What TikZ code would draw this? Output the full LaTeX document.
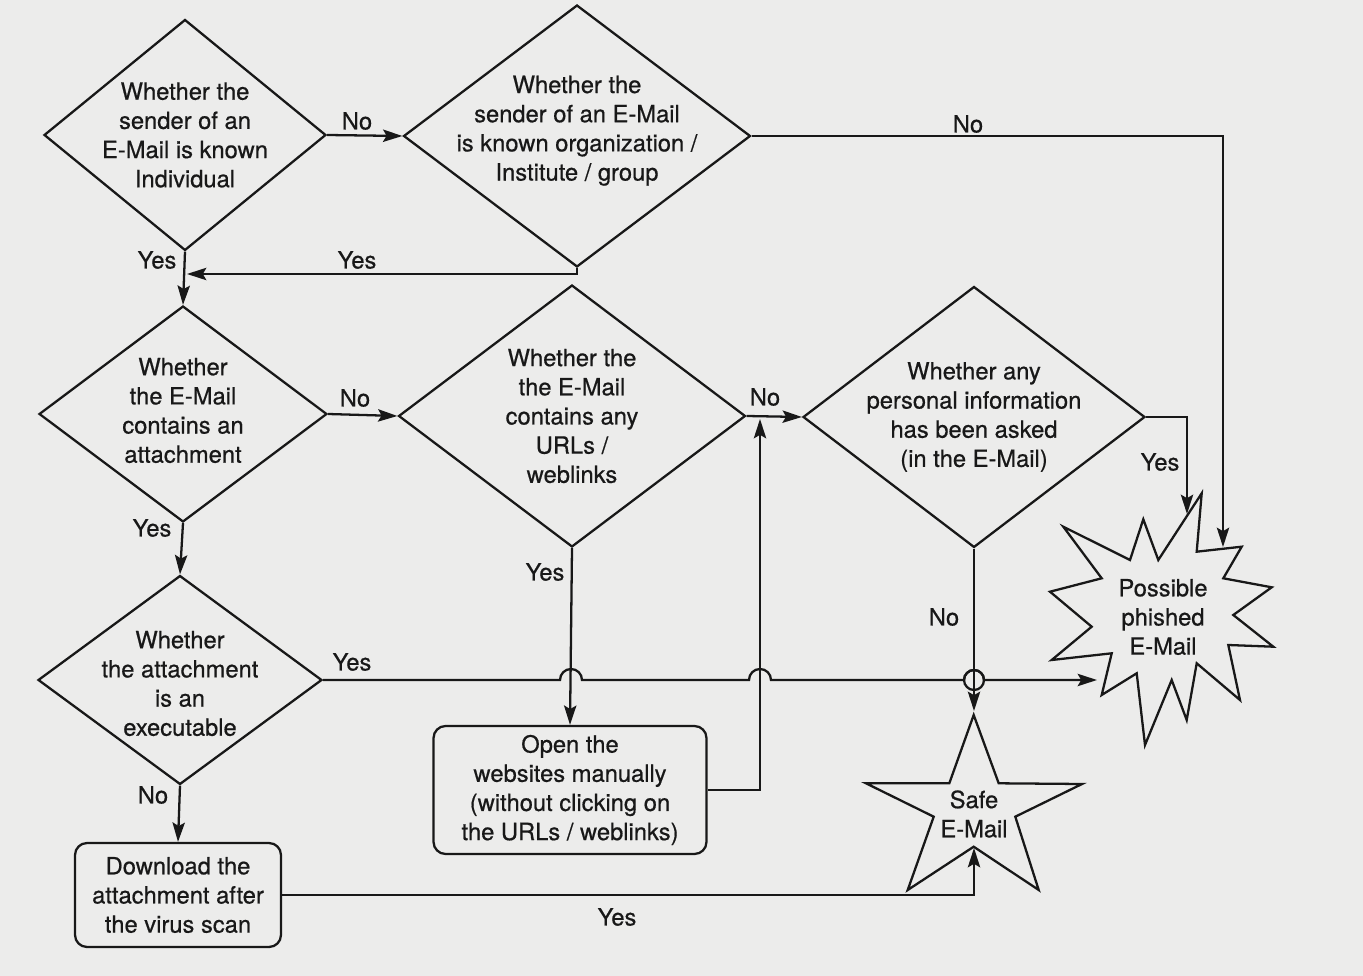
\documentclass[tikz,border=0pt]{standalone}
\usepackage{fontspec}
\setmainfont{TeX Gyre Heros}[FakeBold=0.6]
\usepackage{tikz}
\usetikzlibrary{shapes.geometric,arrows.meta}
\definecolor{scanbg}{RGB}{236,236,235}
\definecolor{ink}{RGB}{24,24,24}
\tikzset{
  txt/.style = {align=center, inner sep=0pt, text=ink,
    font=\fontsize{13.5}{16.6}\selectfont},% texte
  dec/.style = {diamond, draw=ink, inner sep=0pt},% decision
  proc/.style = {txt, rectangle, rounded corners=0.24cm, draw=ink},% action
  lbl/.style = {txt}% yes / no
}

\begin{document}
\begin{tikzpicture}[x=0.02cm, y=-0.02cm, color=ink, line width=1.3pt, >={Stealth[length=11pt,width=7pt,inset=2pt]}]
\fill[scanbg] (0,0) rectangle (1363,976);
\useasboundingbox (0,0) rectangle (1363,976);

% decisions
\node[dec, minimum width=5.64cm, minimum height=4.62cm,
  label={[txt]center:Whether the\\sender of an\\E-Mail is known\\Individual}] (d1) at (185,135) {};
\node[dec, minimum width=6.94cm, minimum height=5.24cm,
  label={[txt, yshift=3pt]center:Whether the\\sender of an E-Mail\\is known organization /\\Institute / group}] (d2) at (577,136) {};
\node[dec, minimum width=5.76cm, minimum height=4.32cm,
  label={[txt, yshift=2pt]center:Whether\\the E-Mail\\contains an\\attachment}] (d3) at (183,414) {};
\node[dec, minimum width=6.94cm, minimum height=5.24cm,
  label={[txt]center:Whether the\\the E-Mail\\contains any\\URLs /\\weblinks}] (d4) at (572,416) {};
\node[dec, minimum width=6.84cm, minimum height=5.22cm,
  label={[txt]center:Whether any\\personal information\\has been asked\\(in the E-Mail)}] (d5) at (974,417) {};
\node[dec, minimum width=5.68cm, minimum height=4.18cm,
  label={[txt, yshift=-2pt]center:Whether\\the attachment\\is an\\executable}] (d6) at (180,680) {};

% actions
\node[proc, minimum width=5.46cm, minimum height=2.56cm] (open) at (570,790)
  {Open the\\websites manually\\(without clicking on\\the URLs / weblinks)};
\node[proc, minimum width=4.12cm, minimum height=2.08cm] (down) at (178,895)
  {Download the\\attachment after\\the virus scan};

% results
\draw (1201.7,493.3) -- (1196.7,551.7) -- (1241.7,546.7) -- (1223.3,578.3) -- (1271.7,587.3)
  -- (1233.3,615) -- (1273.3,646.7) -- (1228.3,645) -- (1240,700) -- (1196.7,663.3)
  -- (1186.7,720) -- (1171.7,680) -- (1145,745) -- (1136.7,673.3) -- (1101.7,695)
  -- (1111.7,653.3) -- (1051.7,660) -- (1091.7,626.7) -- (1050,591.7) -- (1101.7,578.3)
  -- (1063.3,526.7) -- (1130,560) -- (1143.3,519.3) -- (1158.3,560) -- cycle;
\node[txt] (phish) at (1163,617) {Possible\\phished\\E-Mail};
\draw (973.7,715) -- (998.7,783.3) -- (1082,784) -- (1015.3,816.7) -- (1038.7,890)
  -- (973.7,846.7) -- (907.7,890) -- (933.7,816.7) -- (866,783.3) -- (949.3,783.3) -- cycle;
\node[txt] (safe) at (974,814) {Safe\\E-Mail};

\coordinate (yes2end) at (187,274);
\coordinate (p1) at (1187,514);
\coordinate (p2) at (1223,547);
\coordinate (p3) at (1097,680);
\coordinate (s1) at (974,711);
\coordinate (s2) at (974,848);
\coordinate (up) at (760,419);

% connectors
\draw[->] (d1.east) -- (d2.west);
\draw[->] (d2.east) -| (p2);
\draw[->] (d2.south) |- (yes2end);
\draw[->] (d1.south) -- (d3.north);
\draw[->] (d3.east) -- (d4.west);
\draw[->] (d4.east) -- (d5.west);
\draw[->] (d5.east) -| (p1);
\draw[->] (d3.south) -- (d6.north);
\draw[->] (d4.south) -- (open.north);
\draw[->] (open.east) -| (up);
\draw[->] (d5.south) -- (s1);
\draw[->] (d6.south) -- (down.north);
\draw[->] (down.east) -| (s2);
\draw[->] (d6.east) -- (560,680) arc[start angle=180, end angle=0, radius=0.22cm]
  -- (749,680) arc[start angle=180, end angle=0, radius=0.22cm]
  -- (964,680) arc[start angle=180, end angle=0, radius=0.2cm] -- (p3);
\draw (974,680) circle[radius=0.2cm];

% labels
\node[lbl] (no1) at (357,121) {No};
\node[lbl] (no2) at (968,124) {No};
\node[lbl] (yes1) at (157,260) {Yes};
\node[lbl] (yes2) at (357,260) {Yes};
\node[lbl] (no3) at (355,398) {No};
\node[lbl] (no4) at (765,397) {No};
\node[lbl] (yes3) at (1160,462) {Yes};
\node[lbl] (yes4) at (152,528) {Yes};
\node[lbl] (yes5) at (545,572) {Yes};
\node[lbl] (no5) at (944,617) {No};
\node[lbl] (yes6) at (352,662) {Yes};
\node[lbl] (no6) at (153,795) {No};
\node[lbl] (yes7) at (617,917) {Yes};
\end{tikzpicture}
\end{document}
